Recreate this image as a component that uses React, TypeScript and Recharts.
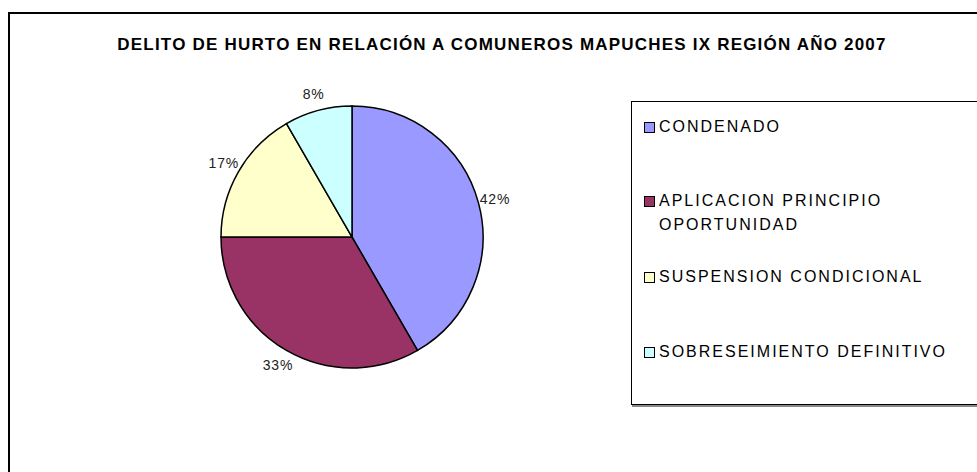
import { Cell, Legend, Pie, PieChart } from "recharts";

const categories = ["CONDENADO", "APLICACION PRINCIPIO OPORTUNIDAD", "SUSPENSION CONDICIONAL", "SOBRESEIMIENTO DEFINITIVO"];
const legendLines = [["CONDENADO"], ["APLICACION PRINCIPIO", "OPORTUNIDAD"], ["SUSPENSION CONDICIONAL"], ["SOBRESEIMIENTO DEFINITIVO"]];
const counts = [5, 4, 2, 1];
const colors = ["#9999FF", "#993366", "#FFFFCC", "#CCFFFF"];

const data = categories.map((name, i) => ({ name, value: counts[i] }));
const total = counts.reduce((a, b) => a + b, 0);

const RAD = Math.PI / 180;
const FONT = "Liberation Sans, Arial, sans-serif";

function renderLabel(props: any) {
  const { cx, cy, midAngle, outerRadius, value } = props;
  const r = outerRadius + 17;
  const x = cx + r * Math.cos(-midAngle * RAD);
  const y = cy + r * Math.sin(-midAngle * RAD);
  return (
    <text x={x} y={y} textAnchor="middle" dominantBaseline="central" fill="#222" fontSize={14} letterSpacing={0.8} fontFamily={FONT}>
      {Math.round((value / total) * 100)}%
    </text>
  );
}

function LegendBox() {
  const rowTops = [114, 188, 264, 339];
  return (
    <div style={{ position: "relative", width: 400, height: 302, border: "1px solid #000", boxShadow: "1px 2px 0 #888", background: "#fff", fontFamily: FONT }}>
      {legendLines.map((lines, i) => (
        <div key={i} style={{ position: "absolute", left: 12, top: rowTops[i] - 101 }}>
          {lines.map((ln, j) => (
            <div key={j} style={{ display: "flex", alignItems: "center", height: 24, fontSize: 16, color: "#000", letterSpacing: 2, whiteSpace: "nowrap" }}>
              <span style={{ width: 9, height: 9, border: "1px solid #000", background: j === 0 ? colors[i] : "transparent", marginRight: 4, visibility: j === 0 ? "visible" : "hidden", flexShrink: 0 }} />
              {ln}
            </div>
          ))}
        </div>
      ))}
    </div>
  );
}

export default function App() {
  return (
    <div style={{ position: "fixed", left: 0, top: 0, width: 977, height: 472, background: "#fff", overflow: "hidden" }}>
      <div style={{ position: "absolute", left: 8, top: 12, width: 1000, height: 500, border: "2px solid #000", boxSizing: "border-box" }} />
      <div style={{ position: "absolute", left: 0, width: 1004, top: 35, textAlign: "center", fontFamily: FONT, fontWeight: "bold", fontSize: 17, letterSpacing: 1.2, color: "#000", whiteSpace: "nowrap" }}>
        DELITO DE HURTO EN RELACIÓN A COMUNEROS MAPUCHES IX REGIÓN AÑO 2007
      </div>
      <PieChart width={977} height={472} margin={{ top: 0, right: 0, bottom: 0, left: 0 }} style={{ position: "absolute", left: 0, top: 0 }}>
        <Pie
          data={data}
          dataKey="value"
          nameKey="name"
          cx={352}
          cy={237}
          outerRadius={131}
          startAngle={90}
          endAngle={-270}
          stroke="#000"
          strokeWidth={1.5}
          label={renderLabel}
          labelLine={false}
          isAnimationActive={false}
        >
          {data.map((d, i) => (
            <Cell key={d.name} fill={colors[i]} />
          ))}
        </Pie>
        <Legend content={() => <LegendBox />} wrapperStyle={{ position: "absolute", left: 631, top: 101, width: 400 }} />
      </PieChart>
    </div>
  );
}
